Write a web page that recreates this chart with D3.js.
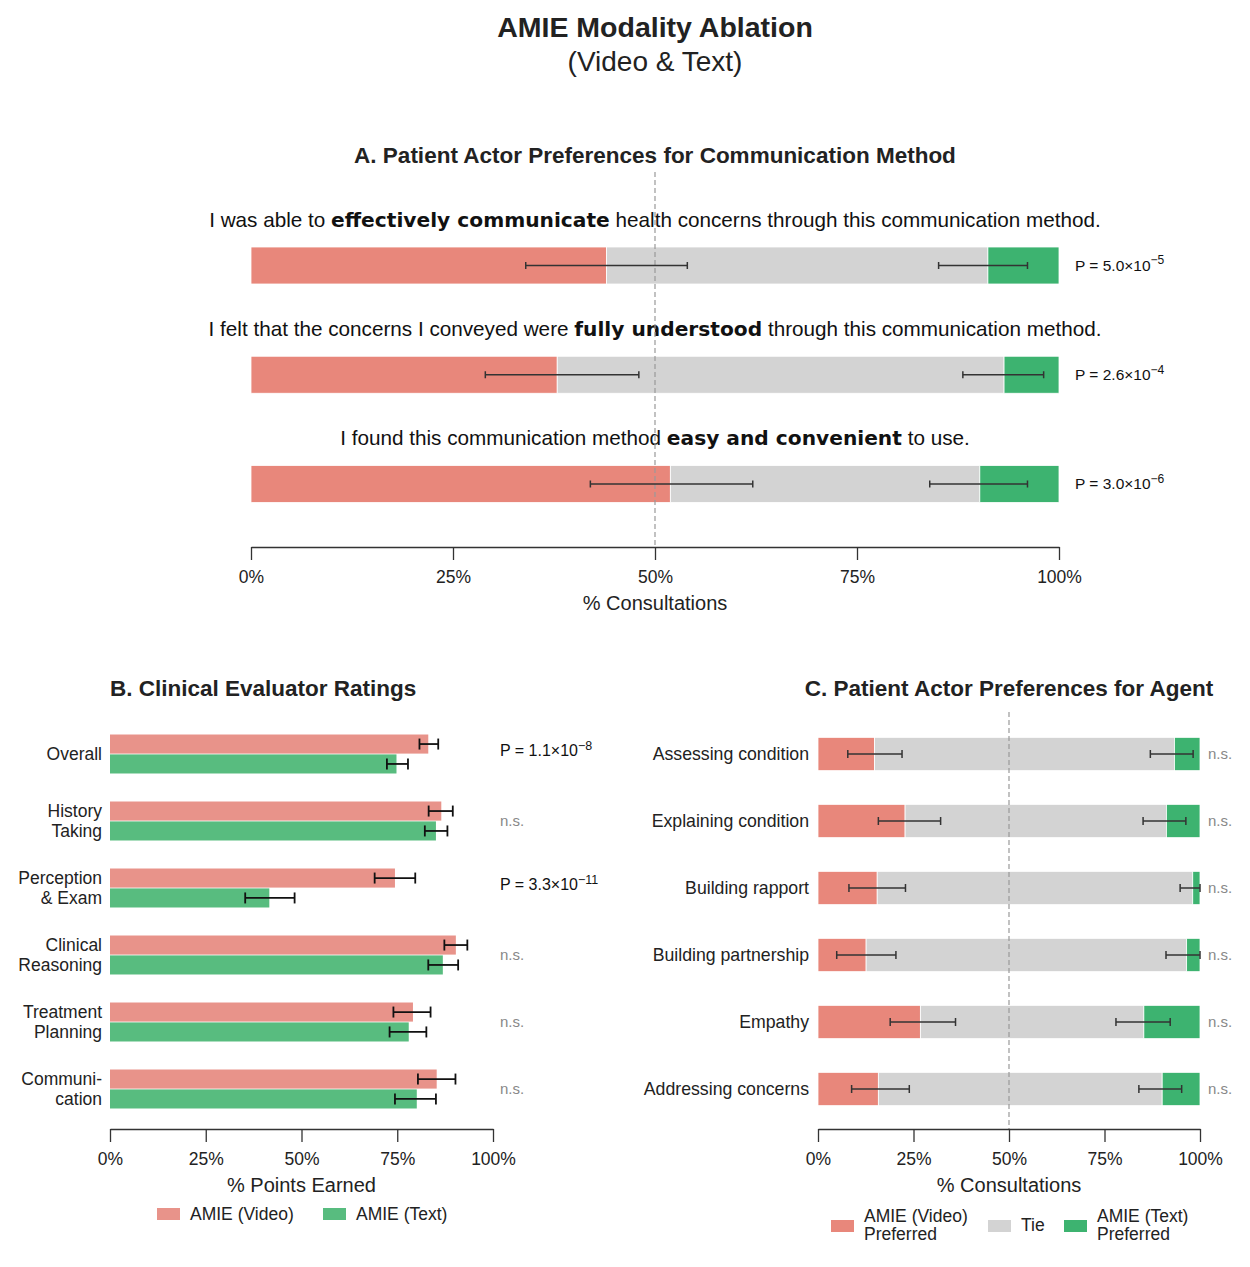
<!DOCTYPE html>
<html><head><meta charset="utf-8">
<script src="https://cdn.jsdelivr.net/npm/d3@7"></script>
<style>body{margin:0;background:#fff}svg{display:block}</style>
</head><body>
<svg id="chart" width="1250" height="1267"></svg>
<script>
// ---------------- DATA ----------------
const mainTitle = "AMIE Modality Ablation";
const subTitle = "(Video & Text)";
const titleA = "A. Patient Actor Preferences for Communication Method";
const titleB = "B. Clinical Evaluator Ratings";
const titleC = "C. Patient Actor Preferences for Agent";

const aStatements = [
  ["I was able to ", "effectively communicate", " health concerns through this communication method."],
  ["I felt that the concerns I conveyed were ", "fully understood", " through this communication method."],
  ["I found this communication method ", "easy and convenient", " to use."]
];
const aVideo = [44.0, 37.9, 51.9];
const aText = [8.8, 6.8, 9.8];
const aVideoErr = [[34.0, 54.0], [29.0, 48.0], [42.0, 62.1]];
const aTextErr = [[85.1, 96.1], [88.1, 98.1], [84.0, 96.1]];
const aPMantissa = ["5.0", "2.6", "3.0"];
const aPExponent = ["−5", "−4", "−6"];

const bCategories = [["Overall"], ["History", "Taking"], ["Perception", "& Exam"], ["Clinical", "Reasoning"], ["Treatment", "Planning"], ["Communi-", "cation"]];
const bVideo = [83.1, 86.5, 74.4, 90.3, 79.1, 85.3];
const bVideoErr = [[80.8, 85.7], [83.2, 89.5], [69.1, 79.7], [87.3, 93.3], [74.0, 83.7], [80.4, 90.2]];
const bText = [74.8, 85.1, 41.6, 86.9, 78.0, 80.1];
const bTextErr = [[72.3, 77.8], [82.2, 88.1], [35.3, 48.2], [83.1, 90.9], [73.0, 82.6], [74.4, 85.1]];
const bPMantissa = ["1.1", null, "3.3", null, null, null];
const bPExponent = ["−8", null, "−11", null, null, null];

const cCategories = ["Assessing condition", "Explaining condition", "Building rapport", "Building partnership", "Empathy", "Addressing concerns"];
const cVideo = [14.8, 22.8, 15.5, 12.6, 26.8, 15.8];
const cText = [6.7, 8.8, 1.9, 3.5, 14.7, 9.9];
const cVideoErr = [[7.8, 22.0], [15.8, 32.1], [8.1, 22.9], [4.9, 20.4], [18.9, 36.0], [8.8, 23.9]];
const cTextErr = [[87.0, 98.2], [85.1, 96.3], [94.8, 100], [91.1, 100], [78.0, 92.2], [84.0, 95.2]];
const cSig = ["n.s.", "n.s.", "n.s.", "n.s.", "n.s.", "n.s."];

const xTicks = [0, 25, 50, 75, 100];
const axisTitleA = "% Consultations";
const axisTitleB = "% Points Earned";
const axisTitleC = "% Consultations";
const legendB = ["AMIE (Video)", "AMIE (Text)"];
const legendC = [["AMIE (Video)", "Preferred"], ["Tie"], ["AMIE (Text)", "Preferred"]];

// ---------------- STYLE ----------------
const FONT = "'Liberation Sans', Arial, Helvetica, sans-serif";
const BOLDFONT = "'DejaVu Sans', sans-serif";
const RED = "#e8877b", GREEN = "#3db370", GRAY = "#d3d3d3";
const RED_B = "#e8938a", GREEN_B = "#58bc7f";
const TXT = "#222";

const svg = d3.select("#chart");
svg.append("rect").attr("width", 1250).attr("height", 1267).attr("fill", "#fff");

// titles
svg.append("text").attr("x", 655).attr("y", 37).attr("text-anchor", "middle")
  .style("font-family", FONT).style("font-weight", "bold").style("font-size", "28.5px").attr("fill", TXT).text(mainTitle);
svg.append("text").attr("x", 655).attr("y", 71).attr("text-anchor", "middle")
  .style("font-family", FONT).style("font-size", "28px").attr("fill", TXT).text(subTitle);

function pText(g, x, y, mant, exp, size) {
  const t = g.append("text").attr("x", x).attr("y", y).style("font-family", FONT).style("font-size", size + "px").attr("fill", "#111");
  t.append("tspan").text("P = " + mant + "×10");
  t.append("tspan").attr("dy", -size * 0.4).style("font-size", (size * 0.78) + "px").text(exp);
}

function drawAxis(g, x, y, title, titleY) {
  const ax = g.append("g").attr("transform", `translate(0,${y})`)
    .call(d3.axisBottom(x).tickValues(xTicks).tickFormat(d => d + "%").tickSize(13).tickSizeOuter(0));
  ax.select(".domain").attr("stroke", "#333").attr("stroke-width", 1.3);
  ax.selectAll(".tick line").attr("stroke", "#333").attr("stroke-width", 1.3);
  ax.selectAll(".tick text").attr("dy", 0).attr("y", 36).style("font-family", FONT).style("font-size", "17.5px").attr("fill", TXT);
  const r = x.range();
  g.append("text").attr("x", (r[0] + r[1]) / 2).attr("y", titleY).attr("text-anchor", "middle")
    .style("font-family", FONT).style("font-size", "20px").attr("fill", TXT).text(title);
}

function errBar(g, x, y, lo, hi, cap, color, w) {
  g.append("line").attr("x1", x(lo)).attr("x2", x(hi)).attr("y1", y).attr("y2", y).attr("stroke", color).attr("stroke-width", w);
  [lo, hi].forEach(v => g.append("line").attr("x1", x(v)).attr("x2", x(v)).attr("y1", y - cap).attr("y2", y + cap).attr("stroke", color).attr("stroke-width", w));
}

// ---------------- PANEL A ----------------
const gA = svg.append("g");
const xA = d3.scaleLinear().domain([0, 100]).range([251, 1059]);
const yA = d3.scaleLinear().domain([0, 2]).range([265.5, 484]);
const barHA = 37;
gA.append("text").attr("x", 655).attr("y", 163).attr("text-anchor", "middle")
  .style("font-family", FONT).style("font-weight", "bold").style("font-size", "22.5px").attr("fill", TXT).text(titleA);

aStatements.forEach((s, i) => {
  const cy = yA(i);
  const t = gA.append("text").attr("x", 655).attr("y", cy - 39).attr("text-anchor", "middle")
    .style("font-family", FONT).style("font-size", "20.7px").attr("fill", "#111");
  t.append("tspan").text(s[0]);
  t.append("tspan").style("font-family", BOLDFONT).style("font-weight", "bold").style("font-size", "20.2px").text(s[1]);
  t.append("tspan").text(s[2]);
  const segs = [[0, aVideo[i], RED], [aVideo[i], 100 - aText[i], GRAY], [100 - aText[i], 100, GREEN]];
  segs.forEach(sg => gA.append("rect").attr("x", xA(sg[0])).attr("width", xA(sg[1]) - xA(sg[0]))
    .attr("y", cy - barHA / 2).attr("height", barHA).attr("fill", sg[2]).attr("stroke", "#fff").attr("stroke-width", 0.8));
});
// dashed 50% line
gA.append("line").attr("x1", xA(50)).attr("x2", xA(50)).attr("y1", 172).attr("y2", 547)
  .attr("stroke", "#999").attr("stroke-width", 1.2).attr("stroke-dasharray", "5,3");
aStatements.forEach((s, i) => {
  const cy = yA(i);
  errBar(gA, xA, cy, aVideoErr[i][0], aVideoErr[i][1], 3.5, "#333", 1.5);
  errBar(gA, xA, cy, aTextErr[i][0], aTextErr[i][1], 3.5, "#333", 1.5);
  pText(gA, 1075, cy + 5, aPMantissa[i], aPExponent[i], 15.5);
});
drawAxis(gA, xA, 547, axisTitleA, 610);

// ---------------- PANEL B ----------------
const gB = svg.append("g");
const xB = d3.scaleLinear().domain([0, 100]).range([110, 493]);
const yB = d3.scaleBand().domain(d3.range(bCategories.length)).range([720.5, 1122.5]).paddingInner(0.418).paddingOuter(0.209);
const subB = d3.scaleBand().domain(["v", "t"]).range([0, yB.bandwidth()]).paddingInner(0.04);
gB.append("text").attr("x", 110).attr("y", 696)
  .style("font-family", FONT).style("font-weight", "bold").style("font-size", "22.5px").attr("fill", TXT).text(titleB);
bCategories.forEach((c, i) => {
  const y0 = yB(i), cy = y0 + yB.bandwidth() / 2;
  gB.append("rect").attr("x", xB(0)).attr("y", y0 + subB("v")).attr("width", xB(bVideo[i]) - xB(0)).attr("height", subB.bandwidth()).attr("fill", RED_B);
  gB.append("rect").attr("x", xB(0)).attr("y", y0 + subB("t")).attr("width", xB(bText[i]) - xB(0)).attr("height", subB.bandwidth()).attr("fill", GREEN_B);
  errBar(gB, xB, y0 + subB("v") + subB.bandwidth() / 2, bVideoErr[i][0], bVideoErr[i][1], 5.5, "#111", 1.8);
  errBar(gB, xB, y0 + subB("t") + subB.bandwidth() / 2, bTextErr[i][0], bTextErr[i][1], 5.5, "#111", 1.8);
  const t = gB.append("text").attr("x", 102).attr("text-anchor", "end")
    .style("font-family", FONT).style("font-size", "17.5px").attr("fill", TXT);
  const n = c.length;
  c.forEach((line, k) => t.append("tspan").attr("x", 102).attr("y", cy + 6 + (k - (n - 1) / 2) * 19.5).text(line));
  if (bPMantissa[i]) pText(gB, 500, cy + 2, bPMantissa[i], bPExponent[i], 16);
  else gB.append("text").attr("x", 500).attr("y", cy + 5).style("font-family", FONT).style("font-size", "15px").attr("fill", "#888").text("n.s.");
});
drawAxis(gB, xB, 1129, axisTitleB, 1192);
// legend B
const legBx = [157, 323];
legendB.forEach((l, i) => {
  gB.append("rect").attr("x", legBx[i]).attr("y", 1208).attr("width", 23).attr("height", 12).attr("fill", i ? GREEN_B : RED_B);
  gB.append("text").attr("x", legBx[i] + 33).attr("y", 1220).style("font-family", FONT).style("font-size", "17.5px").attr("fill", TXT).text(l);
});

// ---------------- PANEL C ----------------
const gC = svg.append("g");
const xC = d3.scaleLinear().domain([0, 100]).range([818, 1200]);
const yC = d3.scaleBand().domain(cCategories).range([720.5, 1122.5]).paddingInner(0.503).paddingOuter(0.2515);
gC.append("text").attr("x", xC(50)).attr("y", 696).attr("text-anchor", "middle")
  .style("font-family", FONT).style("font-weight", "bold").style("font-size", "22.5px").attr("fill", TXT).text(titleC);
cCategories.forEach((c, i) => {
  const y0 = yC(c), h = yC.bandwidth();
  const segs = [[0, cVideo[i], RED], [cVideo[i], 100 - cText[i], GRAY], [100 - cText[i], 100, GREEN]];
  segs.forEach(sg => gC.append("rect").attr("x", xC(sg[0])).attr("width", xC(sg[1]) - xC(sg[0]))
    .attr("y", y0).attr("height", h).attr("fill", sg[2]).attr("stroke", "#fff").attr("stroke-width", 0.8));
  gC.append("text").attr("x", 809).attr("y", y0 + h / 2 + 6).attr("text-anchor", "end")
    .style("font-family", FONT).style("font-size", "17.7px").attr("fill", TXT).text(c);
  gC.append("text").attr("x", 1208).attr("y", y0 + h / 2 + 5).style("font-family", FONT).style("font-size", "15px").attr("fill", "#888").text(cSig[i]);
});
gC.append("line").attr("x1", xC(50)).attr("x2", xC(50)).attr("y1", 712).attr("y2", 1129)
  .attr("stroke", "#999").attr("stroke-width", 1.2).attr("stroke-dasharray", "5,3");
cCategories.forEach((c, i) => {
  const cy = yC(c) + yC.bandwidth() / 2;
  errBar(gC, xC, cy, cVideoErr[i][0], cVideoErr[i][1], 4, "#333", 1.5);
  errBar(gC, xC, cy, cTextErr[i][0], cTextErr[i][1], 4, "#333", 1.5);
});
drawAxis(gC, xC, 1129, axisTitleC, 1192);
// legend C
const legCx = [831, 988, 1064];
const legCcol = [RED, GRAY, GREEN];
legendC.forEach((l, i) => {
  gC.append("rect").attr("x", legCx[i]).attr("y", 1220).attr("width", 23).attr("height", 12).attr("fill", legCcol[i]);
  const t = gC.append("text").style("font-family", FONT).style("font-size", "17.5px").attr("fill", TXT);
  l.forEach((line, k) => t.append("tspan").attr("x", legCx[i] + 33).attr("y", 1231 + (k - (l.length - 1) / 2) * 18).text(line));
});
</script>
</body></html>
